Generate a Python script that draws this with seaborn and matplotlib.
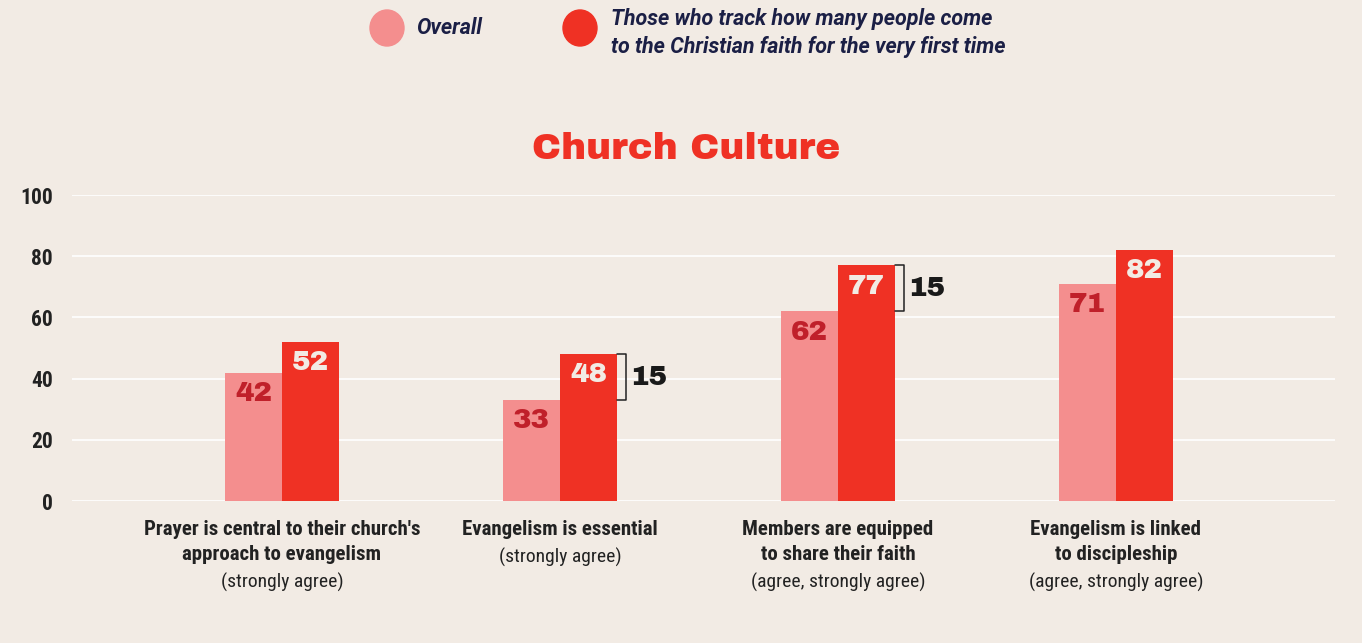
import matplotlib
matplotlib.use("Agg")
import matplotlib.pyplot as plt
from matplotlib.patches import Ellipse
import seaborn as sns
import pandas as pd

# Survey results (% of churches)
topics = [
    "Prayer is central to their church's\napproach to evangelism",
    "Evangelism is essential",
    "Members are equipped\nto share their faith",
    "Evangelism is linked\nto discipleship",
]
qualifiers = [
    "(strongly agree)",
    "(strongly agree)",
    "(agree, strongly agree)",
    "(agree, strongly agree)",
]
overall = [42, 33, 62, 71]
trackers = [52, 48, 77, 82]
gap_labels = [None, 15, 15, None]
series_names = [
    "Overall",
    "Those who track how many people come\nto the Christian faith for the very first time",
]
y_ticks = [0, 20, 40, 60, 80, 100]

BG = "#F2EBE4"
LIGHT = "#F48E8E"
DARK = "#EF3124"
NAVY = "#1B1F45"
NARROW = ["Roboto Condensed", "Open Sans Condensed", "IBM Plex Sans Condensed", "DejaVu Sans"]
WIDE = ["Archivo Black", "DejaVu Sans"]
LEGEND_FONT = ["Roboto", "DejaVu Sans"]

sns.set_theme(style="white")
plt.rcParams["font.family"] = ["DejaVu Sans"]

df = pd.DataFrame({
    "topic": topics * 2,
    "group": [series_names[0]] * 4 + [series_names[1]] * 4,
    "value": overall + trackers,
})

W, H = 1362, 643
fig = plt.figure(figsize=(W / 100, H / 100), dpi=100, facecolor=BG)
ax = fig.add_axes([0.0529, 0.2208, 0.9273, 0.4759])
ax.set_facecolor(BG)

sns.barplot(data=df, x="topic", y="value", hue="group", order=topics,
            hue_order=series_names, palette=[LIGHT, DARK], width=0.41,
            gap=0, saturation=1, legend=False, linewidth=0, ax=ax, zorder=3)

ax.set_xlim(-0.755, 3.788)
ax.set_ylim(0, 100)
ax.set_yticks(y_ticks)
ax.set_yticklabels([str(t) for t in y_ticks], family=NARROW,
                   fontweight="bold", fontsize=15.5, color="#222222")
ax.tick_params(axis="y", length=0, pad=14)
ax.set_xticks([])
ax.set_xlabel("")
ax.set_ylabel("")
ax.grid(axis="y", color="white", linewidth=1.2, zorder=0)
for s in ax.spines.values():
    s.set_visible(False)

# Value labels inside bars
bw = 0.205
for i in range(len(topics)):
    ax.text(i - bw / 2, overall[i] - 6.8, str(overall[i]), ha="center",
            va="center", family=WIDE, fontsize=20, fontweight="bold",
            color="#C0202A", zorder=5)
    ax.text(i + bw / 2, trackers[i] - 6.8, str(trackers[i]), ha="center",
            va="center", family=WIDE, fontsize=20, fontweight="bold",
            color=BG, zorder=5)
    # Gap brackets
    if gap_labels[i] is not None:
        xr = i + bw + 0.033
        xl = i + bw
        ax.plot([xl, xr, xr, xl], [trackers[i], trackers[i], overall[i], overall[i]],
                color="#222222", linewidth=1.1, clip_on=False, zorder=5)
        ax.text(xr + 0.013, (trackers[i] + overall[i]) / 2, str(gap_labels[i]),
                ha="left", va="center", family=WIDE, fontsize=20,
                fontweight="bold", color="#1a1a1a")

# Category labels below axis, one line at a time
trans = ax.get_xaxis_transform()
ax_h = 0.4759 * H
first = -28 / ax_h
step = 25 / ax_h
for i, (t, q) in enumerate(zip(topics, qualifiers)):
    lines = t.split("\n")
    for k, line in enumerate(lines):
        ax.text(i, first - k * step, line, transform=trans, ha="center",
                va="center", family=NARROW, fontweight="bold", fontsize=15,
                color="#222222")
    ax.text(i, first - len(lines) * step - 3 / ax_h, q, transform=trans,
            ha="center", va="center", family=NARROW, fontsize=14,
            color="#222222")

# Title
fig.text(0.5037, 1 - 149 / H, "Church Culture", ha="center", va="center",
         family=WIDE, fontsize=27, fontweight="bold", color=DARK)

# Legend
for cx, color in [(387, LIGHT), (580, DARK)]:
    fig.patches.append(Ellipse((cx / W, 1 - 28 / H), 34 / W, 36 / H,
                               transform=fig.transFigure, color=color))
fig.text(416 / W, 1 - 28 / H, series_names[0], ha="left", va="center",
         family=LEGEND_FONT, fontsize=15.5, fontstyle="italic",
         fontweight="bold", color=NAVY)
fig.text(611 / W, 1 - 33 / H, series_names[1], ha="left", va="center",
         family=LEGEND_FONT, fontsize=15.5, fontstyle="italic",
         fontweight="bold", color=NAVY, linespacing=1.35)

fig.savefig("out.png", dpi=100, facecolor=BG)
